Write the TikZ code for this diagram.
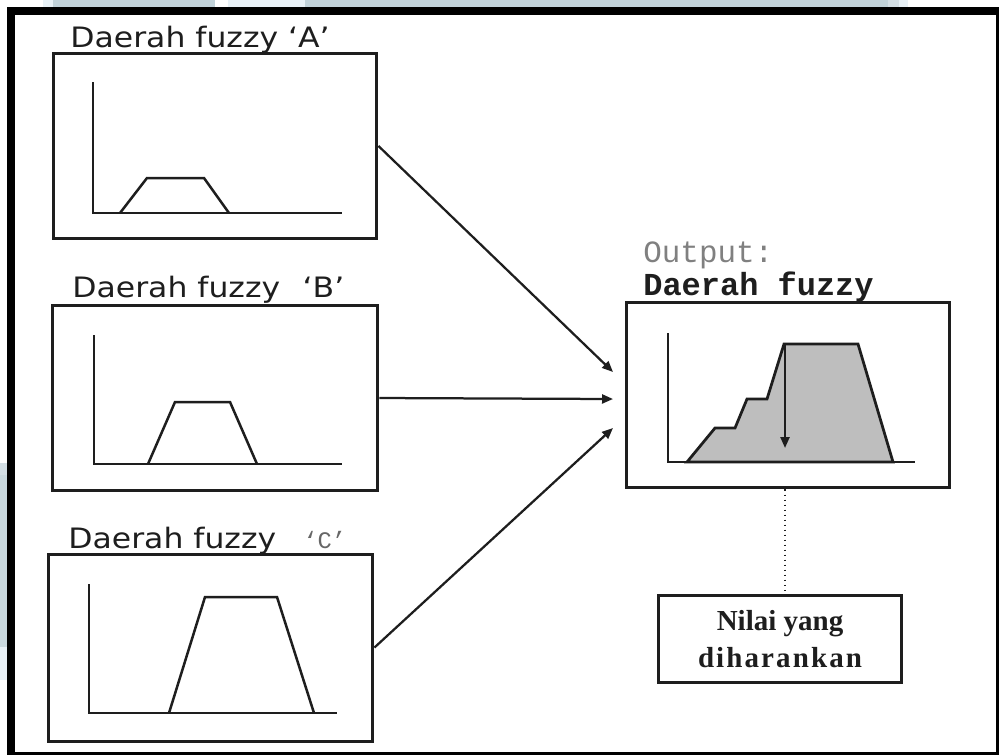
\documentclass[tikz,border=0pt]{standalone}
\usepackage{fontspec}
\usetikzlibrary{arrows.meta}
\newfontfamily\lblfont[FakeStretch=1.12]{DejaVu Sans}
\newfontfamily\monofont{Liberation Mono}
\newfontfamily\resfont{Liberation Serif}
\definecolor{bgA}{RGB}{193,210,217}
\definecolor{bgB}{RGB}{232,241,246}
\definecolor{bgC}{RGB}{212,223,229}
\definecolor{shade}{RGB}{190,190,190}
\definecolor{ink}{RGB}{30,30,30}
\newcommand{\spc}{\kern1.2pt}
\begin{document}
\begin{tikzpicture}[x=0.02cm,y=-0.02cm,
  panel/.style={draw=ink, line width=0.06cm, inner sep=0pt, minimum width=6.48cm, minimum height=3.72cm},
  axisline/.style={draw=ink, line width=0.05cm},
  curveline/.style={draw=ink, line width=0.05cm, line join=miter},
  conn/.style={draw=ink, line width=0.045cm, -{Triangle[length=0.22cm,width=0.18cm]}},
  lbl/.style={anchor=base west, inner sep=0pt, font=\lblfont\fontsize{16}{19}\selectfont, text=ink},
  smallmono/.style={anchor=base west, inner sep=0pt, font=\monofont\fontsize{13.5}{15}\selectfont, text=black!60},
  outmono/.style={anchor=base west, inner sep=0pt, font=\monofont\fontsize{17.6}{20}\selectfont, text=black!50},
  outbold/.style={anchor=base west, inner sep=0pt, font=\monofont\bfseries\fontsize{18.2}{20}\selectfont, text=ink},
  resbox/.style={draw=ink, line width=0.06cm, inner sep=0pt, minimum width=4.88cm, minimum height=1.74cm, align=center, font=\resfont\bfseries\fontsize{16.5}{17}\selectfont, text=ink}
]
\useasboundingbox (0,0) rectangle (999,755);
\fill[white] (0,0) rectangle (999,755);
% outside background stripes
\fill[bgB] (43,0) rectangle (53,7);
\fill[bgA] (53,0) rectangle (215,7);
\fill[bgB] (228,0) rectangle (305,7);
\fill[bgA] (305,0) rectangle (888,7);
\fill[bgC] (888,0) rectangle (899,7);
\fill[bgB] (899,0) rectangle (908,7);
\fill[bgC] (0,463) rectangle (7,475);
\fill[bgA!85!white] (0,475) rectangle (7,647);
\fill[bgB] (0,647) rectangle (7,680);
% frame
\fill[black] (7,7) rectangle (998,15);
\fill[black] (7,7) rectangle (15,754);
\fill[black] (996,7) rectangle (998.5,754);
\fill[black] (7,752) rectangle (998.5,754.5);

% panels
\node[panel] (A) at (215,146) {};
\node[panel, minimum width=6.52cm] (B) at (215,398) {};
\node[panel, minimum width=6.5cm, minimum height=3.74cm] (C) at (210.5,647.5) {};
\node[panel] (O) at (788,395) {};
\node[resbox] (R) at (780,639) {Nilai yang\\[4pt]d\spc i\spc h\spc a\spc r\spc a\spc n\spc k\spc a\spc n};

% labels
\node[lbl] (la) at (70,47) {Daerah fuzzy ‘A’};
\node[lbl] (lb) at (72,297) {Daerah fuzzy \hspace{0.25cm}‘B’};
\node[lbl] (lc) at (68,548) {Daerah fuzzy};
\node[smallmono] (lcq) at (303,548) {‘C’};
\node[outmono] (lo1) at (643,262) {Output:};
\node[outbold] (lo2) at (643,295) {Daerah fuzzy};

% panel A graph
\draw[axisline] (93,82) -- (93,213) -- (342,213);
\draw[curveline] (120,213) -- (147,178) -- (204,178) -- (229,213);
% panel B graph
\draw[axisline] (94,335) -- (94,464) -- (342,464);
\draw[curveline] (148,464) -- (175,402) -- (230,402) -- (257,464);
% panel C graph
\draw[axisline] (89,584) -- (89,713) -- (337,713);
\draw[curveline] (169,713) -- (205,597) -- (277,597) -- (314,713);
% output graph
\draw[axisline, line width=0.04cm] (668,333) -- (668,462) -- (915,462);
\filldraw[fill=shade, curveline, line width=0.055cm] (687,462) -- (715,428) -- (735,428) -- (747,399) -- (767,399) -- (784,344) -- (858,344) -- (893,462) -- cycle;
\coordinate (cg) at (785,344);
\coordinate (cgEnd) at (785,448);
\draw[conn] (cg) -- (cgEnd);
\draw[ink, line width=0.03cm, dotted] (cg |- O.south) -- (cg |- R.north);

% connectors
\coordinate (tA) at (613,372);
\coordinate (tB) at (613,399);
\coordinate (tC) at (613,428);
\draw[conn] (A.east) -- (tA);
\draw[conn] (B.east) -- (tB);
\draw[conn] (C.east) -- (tC);
\end{tikzpicture}
\end{document}
